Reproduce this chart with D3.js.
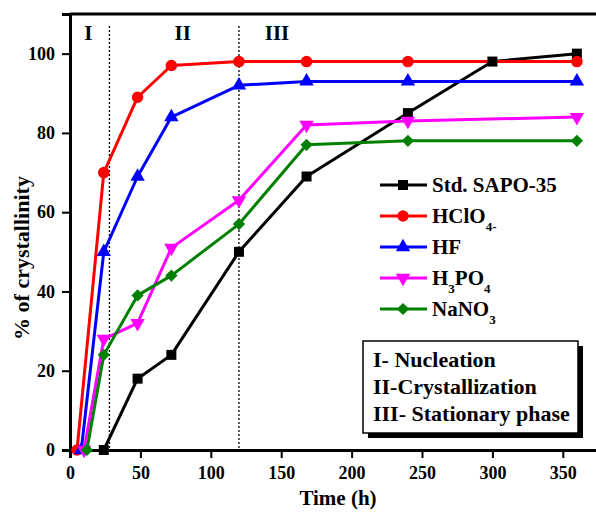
<!DOCTYPE html>
<html>
<head>
<meta charset="utf-8">
<script src="https://cdnjs.cloudflare.com/ajax/libs/d3/7.8.5/d3.min.js"></script>
<style>
  body { margin: 0; background: #fff; }
  text { font-family: "Liberation Serif", "Times New Roman", serif; font-weight: bold; fill: #000; }
</style>
</head>
<body>
<svg id="chart" width="596" height="512"></svg>
<script>
// ---- data ----
var xTicks = [0, 50, 100, 150, 200, 250, 300, 350];
var yTicks = [0, 20, 40, 60, 80, 100];

var tStd   = [24, 48, 72, 120, 168, 240, 300, 360];
var vStd   = [0, 18, 24, 50, 69, 85, 98, 100];

var tHClO4 = [5, 24, 48, 72, 120, 168, 240, 360];
var vHClO4 = [0, 70, 89, 97, 98, 98, 98, 98];

var tHF    = [8, 24, 48, 72, 120, 168, 240, 360];
var vHF    = [0, 50, 69, 84, 92, 93, 93, 93];

var tH3PO4 = [10, 24, 48, 72, 120, 168, 240, 360];
var vH3PO4 = [0, 28, 32, 51, 63, 82, 83, 84];

var tNaNO3 = [12, 24, 48, 72, 120, 168, 240, 360];
var vNaNO3 = [0, 24, 39, 44, 57, 77, 78, 78];

var phaseLines = [28, 120];
var phaseLabels = [["I", 13], ["II", 80], ["III", 147]];
var phaseNotes = ["I- Nucleation", "II-Crystallization", "III- Stationary phase"];

// label parts: [text, isSubscript]
var series = [
  {label: [["Std. SAPO-35", 0]], t: tStd, v: vStd, color: "#000000", sym: "square"},
  {label: [["HClO", 0], ["4-", 1]], t: tHClO4, v: vHClO4, color: "#ff0000", sym: "circle"},
  {label: [["HF", 0]], t: tHF, v: vHF, color: "#0000ff", sym: "up"},
  {label: [["H", 0], ["3", 1], ["PO", 0], ["4", 1]], t: tH3PO4, v: vH3PO4, color: "#ff00ff", sym: "down"},
  {label: [["NaNO", 0], ["3", 1]], t: tNaNO3, v: vNaNO3, color: "#008000", sym: "diamond"}
];

var svg = d3.select("#chart");

var x = d3.scaleLinear().domain([0, 375]).range([70, 598]);
var y = d3.scaleLinear().domain([0, 110]).range([450, 14]);

// frame (top + right edges)
svg.append("path")
  .attr("d", "M" + x(0) + "," + y(110) + "H" + x(375) + "V" + y(0))
  .attr("fill", "none").attr("stroke", "#000").attr("stroke-width", 3);

// axes
var xAxis = svg.append("g").attr("transform", "translate(0," + y(0) + ")")
  .call(d3.axisBottom(x).tickValues(xTicks).tickSize(8).tickPadding(8));
var yAxis = svg.append("g").attr("transform", "translate(" + x(0) + ",0)")
  .call(d3.axisLeft(y).tickValues(yTicks).tickSize(8).tickPadding(7));

[xAxis, yAxis].forEach(function(a){
  a.select(".domain").attr("stroke", "#000").attr("stroke-width", 3);
  a.selectAll(".tick line").attr("stroke", "#000").attr("stroke-width", 2);
  a.selectAll(".tick text").style("font-size", "18px").style("font-family", "Liberation Serif, serif")
    .style("font-weight", "bold").attr("fill", "#000");
});

// phase separators
phaseLines.forEach(function(p){
  svg.append("line")
    .attr("x1", x(p)).attr("x2", x(p))
    .attr("y1", y(107)).attr("y2", y(0))
    .attr("stroke", "#000").attr("stroke-width", 1.3)
    .attr("stroke-dasharray", "2,2");
});
phaseLabels.forEach(function(p){
  svg.append("text").attr("x", x(p[1])).attr("y", 40)
    .attr("text-anchor", "middle").style("font-size", "21px").text(p[0]);
});

// axis titles
svg.append("text").attr("x", 338).attr("y", 505).attr("text-anchor", "middle")
  .style("font-size", "21px").text("Time (h)");
svg.append("text").attr("transform", "translate(29,258) rotate(-90)")
  .attr("text-anchor", "middle").style("font-size", "22px").text("% of crystallinity");

// symbols
function symbolPath(kind) {
  if (kind === "square") return {d: d3.symbol(d3.symbolSquare, 100)(), r: 0};
  if (kind === "circle") return {d: d3.symbol(d3.symbolCircle, 105)(), r: 0};
  if (kind === "up") return {d: d3.symbol(d3.symbolTriangle, 90)(), r: 0};
  if (kind === "down") return {d: d3.symbol(d3.symbolTriangle, 90)(), r: 180};
  return {d: d3.symbol(d3.symbolSquare, 75)(), r: 45};
}

var line = d3.line().x(function(d){ return x(d[0]); }).y(function(d){ return y(d[1]); });

series.forEach(function(s){
  var pts = d3.zip(s.t, s.v);
  svg.append("path").datum(pts)
    .attr("d", line)
    .attr("fill", "none").attr("stroke", s.color).attr("stroke-width", 3)
    .attr("stroke-linejoin", "round");
});

series.forEach(function(s){
  var pts = d3.zip(s.t, s.v);
  var sp = symbolPath(s.sym);
  svg.append("g").selectAll("path").data(pts).join("path")
    .attr("d", sp.d)
    .attr("transform", function(d){ return "translate(" + x(d[0]) + "," + y(d[1]) + ") rotate(" + sp.r + ")"; })
    .attr("fill", s.color);
});

// legend
var legend = svg.append("g");
series.forEach(function(s, i){
  var cy = 185 + i * 31;
  var sp = symbolPath(s.sym);
  legend.append("line").attr("x1", 380).attr("x2", 427).attr("y1", cy).attr("y2", cy)
    .attr("stroke", s.color).attr("stroke-width", 3);
  legend.append("path").attr("d", sp.d)
    .attr("transform", "translate(403," + cy + ") rotate(" + sp.r + ")")
    .attr("fill", s.color);
  var tx = legend.append("text").attr("x", 432).attr("y", cy + 7).style("font-size", "21px");
  s.label.forEach(function(part){
    var ts = tx.append("tspan").text(part[0]);
    if (part[1]) ts.attr("dy", 8).style("font-size", "13px");
    else ts.attr("dy", tx.selectAll("tspan").size() > 1 ? -8 : 0);
  });
});

// phase notes box with shadow
var bx = 363, by = 341, bw = 215, bh = 92;
svg.append("rect").attr("x", bx + 5).attr("y", by + 5).attr("width", bw).attr("height", bh).attr("fill", "#000");
svg.append("rect").attr("x", bx).attr("y", by).attr("width", bw).attr("height", bh)
  .attr("fill", "#fff").attr("stroke", "#000").attr("stroke-width", 1.5);
phaseNotes.forEach(function(n, i){
  svg.append("text").attr("x", bx + 10).attr("y", by + 26 + i * 27)
    .style("font-size", "22px").text(n);
});
</script>
</body>
</html>
